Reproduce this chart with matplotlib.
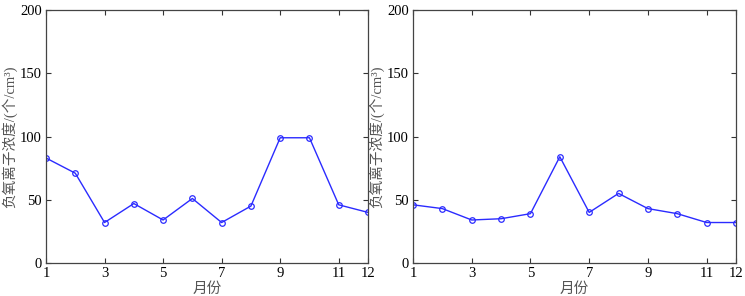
import matplotlib
matplotlib.use("Agg")
import matplotlib.pyplot as plt

months = [1, 2, 3, 4, 5, 6, 7, 8, 9, 10, 11, 12]
left_vals = [83, 71, 32, 47, 34, 51, 32, 45, 99, 99, 46, 40]
right_vals = [46, 43, 34, 35, 39, 84, 40, 55, 43, 39, 32, 32]
xticks = [1, 3, 5, 7, 9, 11, 12]
yticks = [0, 50, 100, 150, 200]

CJK = ["Noto Sans CJK SC", "DejaVu Sans"]
SERIF = ["Liberation Serif", "DejaVu Serif"]
MIXED = ["Liberation Serif", "Noto Sans CJK SC"]

fig = plt.figure(figsize=(7.45, 2.96), dpi=100)
positions = [[46/745, 33/296, 322/745, 253/296],
             [413/745, 33/296, 323/745, 253/296]]

for pos, vals in zip(positions, [left_vals, right_vals]):
    ax = fig.add_axes(pos)
    ax.plot(months, vals, color="#2b2bff", lw=1.0, marker="o", ms=4,
            mfc="none", mec="#2b2bff", mew=0.9)
    ax.set_xlim(1, 12)
    ax.set_ylim(0, 200)
    ax.set_xticks(xticks)
    ax.set_yticks(yticks)
    ax.tick_params(direction="in", top=True, right=True, length=3.5,
                   width=0.8, colors="#333333", labelsize=10.5, pad=3)
    for lab in ax.get_xticklabels() + ax.get_yticklabels():
        lab.set_family(SERIF)
        lab.set_color("black")
    for sp in ax.spines.values():
        sp.set_color("#444444")
        sp.set_linewidth(0.9)
    ax.set_xlabel("月份", family=CJK, fontsize=10.5, color="#555555", labelpad=1)
    ax.set_ylabel("负氧离子浓度/(个/cm³)", family=MIXED, fontsize=10.5,
                  color="#555555", labelpad=2)

fig.savefig("out.png", dpi=100)
